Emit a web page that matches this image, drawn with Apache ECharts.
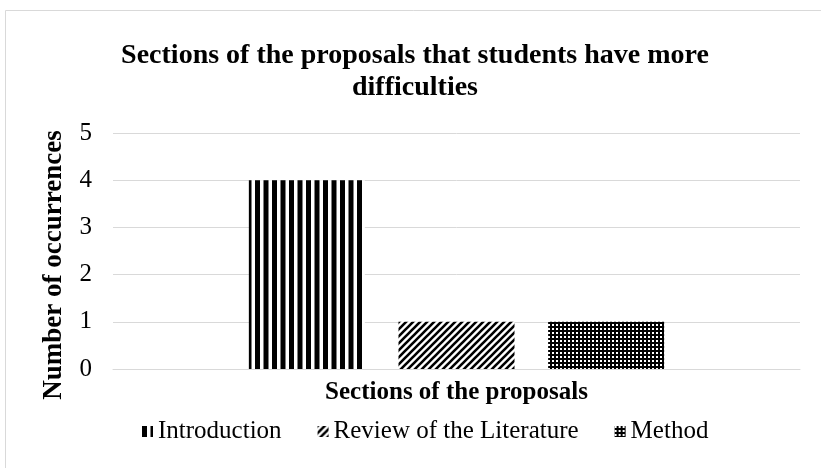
<!DOCTYPE html>
<html>
<head>
<meta charset="utf-8">
<script src="https://cdn.jsdelivr.net/npm/echarts@6/dist/echarts.min.js"></script>
<style>html,body{margin:0;padding:0;background:#fff}#c{width:821px;height:468px}</style>
</head>
<body>
<div id="c"></div>
<script>
var titleText = 'Sections of the proposals that students have more\ndifficulties';
var categories = ['Sections of the proposals'];
var seriesNames = ['Introduction', 'Review of the Literature', 'Method'];
var introValues = [4];
var reviewValues = [1];
var methodValues = [1];
var yTicks = [0, 1, 2, 3, 4, 5];
var yAxisTitle = 'Number of occurrences';
var xAxisTitle = 'Sections of the proposals';

function vertPattern() {
  var c = document.createElement('canvas'); c.width = 17; c.height = 10;
  var g = c.getContext('2d'); g.fillStyle = '#fff'; g.fillRect(0,0,17,10);
  g.fillStyle = '#000'; g.fillRect(0,0,5,10); g.fillRect(8.5,0,5,10);
  return c;
}
function diagPattern() {
  var s = 7;
  var c = document.createElement('canvas'); c.width = s; c.height = s;
  var g = c.getContext('2d'); g.fillStyle = '#fff'; g.fillRect(0,0,s,s);
  g.strokeStyle = '#000'; g.lineWidth = 2.6;
  g.beginPath();
  g.moveTo(-2, s+2); g.lineTo(s+2, -2);
  g.moveTo(-2, 2); g.lineTo(2, -2);
  g.moveTo(s-2, s+2); g.lineTo(s+2, s-2);
  g.stroke();
  return c;
}
function dotPattern() {
  var c = document.createElement('canvas'); c.width = 4; c.height = 4;
  var g = c.getContext('2d'); g.fillStyle = '#000'; g.fillRect(0,0,4,4);
  g.fillStyle = '#fff'; g.fillRect(0,0,2,2);
  return c;
}
var patterns = [vertPattern(), diagPattern(), dotPattern()];
var valueLists = [introValues, reviewValues, methodValues];

var chart = echarts.init(document.getElementById('c'), null, {renderer: 'canvas'});
var serif = '"Liberation Serif", "Times New Roman", serif';
chart.setOption({
  animation: false,
  backgroundColor: '#fff',
  graphic: [{
    type: 'rect', shape: {x: 5.5, y: 10.5, width: 900, height: 600},
    style: {fill: 'none', stroke: '#d9d9d9', lineWidth: 1}, silent: true
  }],
  title: {
    text: titleText, left: 415, textAlign: 'center', top: 40, padding: 0,
    textStyle: {fontFamily: serif, fontWeight: 'bold', fontSize: 28, lineHeight: 32, color: '#000'}
  },
  grid: {left: 113, right: 21, top: 133, bottom: 99, containLabel: false},
  legend: {
    top: 419, left: 142, padding: 0, icon: 'rect', itemWidth: 11, itemHeight: 11, itemGap: 36,
    textStyle: {fontFamily: serif, fontSize: 25, color: '#000'},
    data: seriesNames
  },
  xAxis: {
    type: 'category', data: categories,
    name: xAxisTitle, nameLocation: 'middle', nameGap: 11,
    nameTextStyle: {fontFamily: serif, fontWeight: 'bold', fontSize: 25, color: '#000'},
    axisLine: {lineStyle: {color: '#d9d9d9'}}, axisTick: {show: false},
    axisLabel: {show: false}
  },
  yAxis: {
    type: 'value', min: yTicks[0], max: yTicks[yTicks.length-1], interval: 1,
    name: yAxisTitle, nameLocation: 'middle', nameGap: 45,
    nameTextStyle: {fontFamily: serif, fontWeight: 'bold', fontSize: 27, color: '#000', padding: [0, 28, 0, 0]},
    axisLabel: {fontFamily: serif, fontSize: 25, color: '#000', margin: 21},
    splitLine: {lineStyle: {color: '#d9d9d9'}},
    axisLine: {show: false}, axisTick: {show: false}
  },
  series: seriesNames.map(function(n, i) {
    return {
      name: n, type: 'bar', data: valueLists[i], barWidth: 116, barGap: '29%',
      itemStyle: {color: {image: patterns[i], repeat: 'repeat'}}
    };
  })
});
</script>
</body>
</html>
